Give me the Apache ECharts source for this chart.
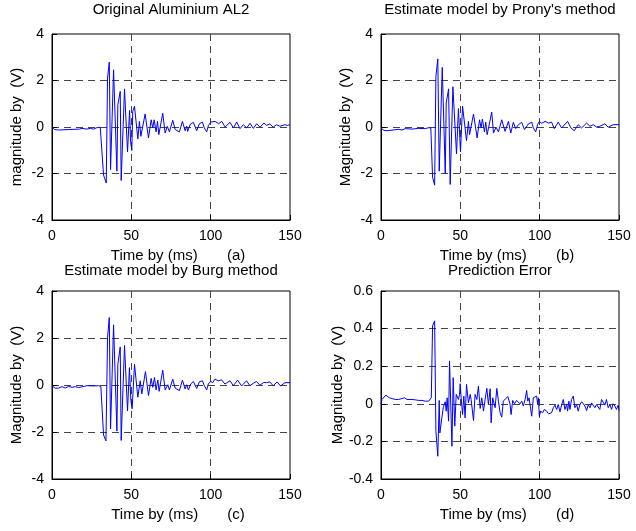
<!DOCTYPE html>
<html>
<head>
<meta charset="utf-8">
<script src="https://cdn.jsdelivr.net/npm/echarts@6/dist/echarts.min.js"></script>
<style>
html,body{margin:0;padding:0;background:#fff;}
#c{width:636px;height:531px;}
</style>
</head>
<body>
<div id="c"></div>
<script>
// ---- Data (time in ms, magnitude in V) ----
const titles = ["Original Aluminium AL2", "Estimate model by Prony's method", "Estimate model by Burg method", "Prediction Error"];
const xNames = ["Time by (ms)       (a)", "Time by (ms)       (b)", "Time by (ms)       (c)", "Time by (ms)       (d)"];
const yNames = ["magnitude by  (V)", "Magnitude by  (V)", "Magnitude by  (V)", "Magnitude by  (V)"];
const xTicks = [0, 50, 100, 150];
const yTicksABC = [-4, -2, 0, 2, 4];
const yTicksD = [-0.4, -0.2, 0, 0.2, 0.4, 0.6];

const aTime = [0,1.5,4.2,10.5,17.4,18.9,22.0,24.1,26.2,28.3,30.4,31.5,32.5,33.1,34.2,35.0,36.1,36.9,38.8,40.9,41.5,43.0,43.6,45.7,47.6,48.9,49.5,50.3,50.9,52.0,54.1,55.1,56.0,58.7,60.8,62.5,63.5,64.4,65.6,66.5,67.3,69.8,71.3,72.7,74.0,76.1,77.6,78.6,80.3,82.2,83.9,84.9,85.5,87.0,89.1,91.2,92.9,93.7,94.8,96.0,97.5,98.6,100.1,101.3,102.8,104.9,107.0,109.1,110.1,112.2,114.3,116.4,118.5,120.6,122.7,124.8,126.9,129.0,131.1,133.6,135.2,137.3,139.4,141.5,143.6,146.8,148.3,150];
const aVolt = [0,-0.11,-0.13,-0.11,-0.09,-0.06,-0.09,-0.06,-0.09,-0.03,-0.01,-0.04,-2.07,-2.19,-2.41,2.10,2.79,-1.83,2.46,-1.90,0.96,1.53,-2.30,1.64,-1.07,0.71,-0.61,-1.01,0.67,0.89,-0.51,0.24,-0.40,0.56,-0.47,0.31,-0.04,0.31,-0.21,0.24,-0.33,0.59,-0.26,0.03,-0.21,0.29,-0.11,-0.07,-0.21,0.24,-0.16,0.03,-0.19,0.10,0.20,-0.16,0.14,0.10,0.21,-0.04,-0.21,0.07,0.21,0.13,0.24,0.14,0.24,0,-0.07,0.20,-0.04,0.21,-0.07,0.10,-0.04,0.16,-0.06,0.14,-0.01,0.17,0.07,0.13,-0.01,0.10,0.03,0.10,0.07,0.10];

const bTime = [0,1.7,3.8,11.1,13.2,15.3,19.5,23.7,27.9,30.0,31.4,32.5,33.8,34.6,35.8,36.7,38.6,40.5,41.1,42.6,43.6,45.3,47.6,48.8,50.1,51.4,53.9,55.1,55.8,58.3,60.6,62.1,63.1,63.9,65.2,66.0,66.9,69.8,70.9,72.5,74.0,76.1,78.2,80.3,81.8,83.4,84.9,86.6,88.7,90.4,92.9,93.9,95.0,96.0,97.5,98.7,99.8,101.3,103.4,105.5,107.5,109.2,111.7,113.8,117.6,119.7,121.8,124.3,126.4,129.6,131.7,133.8,135.8,137.9,141.1,143.2,146.3,150];
const bVolt = [-0.04,-0.14,-0.16,-0.10,-0.13,-0.07,-0.09,-0.06,-0.07,-0.03,-0.04,-2.16,-2.50,2.17,2.93,-1.90,2.56,-2.01,1.03,1.64,-2.47,1.73,-1.16,0.79,-1.07,0.89,-0.59,0.24,-0.33,0.56,-0.47,0.31,-0.04,0.34,-0.21,0.21,-0.33,0.64,-0.26,-0.01,-0.21,0.31,-0.19,0.24,-0.26,0.20,-0.07,0.10,0.20,-0.11,0.13,0.10,0.21,-0.04,-0.21,0.10,0.24,0.16,0.24,0.17,0.21,-0.07,0.21,-0.04,0.24,-0.04,-0.16,0.10,-0.04,0.17,0.03,0.10,0,0.03,0.14,-0.01,0.10,0.10];

const cTime = [0,2.1,4.2,6.3,8.4,10.5,12.6,14.7,16.8,17.8,22.0,26.2,29.4,30.8,32.5,34.0,35.0,36.1,36.9,38.8,40.9,41.5,43.0,43.6,45.7,47.6,48.8,49.7,50.5,52.0,54.1,55.6,56.6,58.9,60.8,62.5,63.5,64.6,65.6,66.7,67.5,69.8,71.3,73.0,74.0,76.1,77.6,78.6,80.3,82.2,83.9,84.9,86.0,87.4,89.1,91.2,92.9,93.7,94.8,96.0,97.5,98.5,100.0,101.3,102.7,104.8,106.9,109.0,110.1,112.2,114.3,117.0,119.5,122.6,124.7,126.8,128.9,131.0,133.5,135.2,137.3,139.4,141.9,144.0,146.8,150];
const cVolt = [-0.03,-0.14,-0.13,-0.07,-0.13,-0.06,-0.10,-0.07,-0.11,-0.03,-0.03,-0.04,-0.03,-0.07,-2.13,-2.38,2.00,2.87,-1.87,2.56,-1.96,0.88,1.62,-2.36,1.68,-1.10,0.74,-0.66,-1.01,0.88,-0.52,0.18,-0.38,0.57,-0.45,0.28,-0.10,0.32,-0.21,0.21,-0.27,0.63,-0.21,0.01,-0.21,0.25,-0.13,-0.10,-0.24,0.21,-0.17,0.01,-0.21,0.04,0.15,-0.15,0.14,0.07,0.18,-0.03,-0.21,0.04,0.15,0.10,0.25,0.18,0.22,0.04,-0.04,0.18,-0.03,0.21,-0.04,0.18,-0.03,0.07,0.15,-0.01,0.11,0.10,0.13,-0.03,0.13,-0.04,0.10,0.10];

const dTime = [0,0.6,1.7,3.1,4.0,5.2,6.9,9.0,10.1,11.1,13.2,14.9,16.4,19.5,21.6,23.7,25.8,27.9,30.0,31.0,31.7,32.5,33.8,34.6,35.8,36.7,37.1,39.2,40.5,41.1,41.7,42.6,43.2,44.2,44.7,45.5,46.5,47.4,48.0,48.8,49.5,49.9,50.5,51.4,52.2,53.0,53.9,55.1,56.2,56.8,58.3,59.3,60.4,61.4,62.5,63.5,64.6,65.6,66.7,67.7,68.8,69.4,70.4,71.9,73.0,74.0,75.1,76.1,77.1,78.2,79.9,81.3,82.0,83.0,84.1,85.5,86.6,87.6,88.7,89.7,90.8,91.8,92.5,93.3,94.1,95.0,96.0,97.1,98.1,98.7,99.2,99.8,100.6,101.9,102.9,104.4,105.5,106.5,107.5,108.6,109.6,110.7,111.7,112.8,113.8,114.9,115.9,117.0,117.6,118.4,119.1,120.1,121.2,122.2,123.3,124.3,125.4,126.4,127.5,128.5,129.6,130.6,131.7,132.7,133.8,134.8,135.8,136.9,137.9,139.0,140.0,141.1,142.1,143.2,144.3,145.3,146.3,147.4,148.4,149.5,150];
const dErr = [0,0.023,0.032,0.046,0.053,0.032,0.028,0.023,0.028,0.023,0.028,0.032,0.023,0.023,0.021,0.018,0.018,0.014,0.014,0.023,0.032,0.414,0.441,-0.146,-0.279,0.018,-0.155,-0.021,0.011,-0.039,0.032,-0.092,0.228,-0.075,-0.226,0.139,-0.119,0.050,0.041,0.023,0.050,0.107,0.032,-0.057,0.041,-0.075,0.103,0.005,0.050,0.023,-0.089,0.050,0.023,0.094,-0.025,0.032,-0.039,0.023,0.082,-0.004,0.080,-0.101,0.032,-0.021,0.082,0.014,-0.048,-0.071,0.014,0.023,0.039,0,-0.057,0.018,0,0.018,0.023,0,0.014,-0.012,0.023,0.071,0.014,0.032,0.023,-0.066,0.032,0.023,0.041,0,0.032,-0.066,-0.039,-0.048,-0.030,-0.039,-0.053,-0.060,-0.048,-0.021,-0.007,-0.030,-0.004,-0.043,-0.007,0.023,-0.030,-0.004,-0.039,0.014,-0.030,0.023,0.041,-0.021,-0.004,-0.039,-0.004,0.011,0,-0.012,-0.036,-0.004,-0.021,0.005,0.011,-0.021,-0.004,-0.012,-0.030,0.023,0.014,-0.007,0.023,-0.021,-0.004,-0.030,0,-0.012,-0.030,-0.007,-0.036];

// ---- Chart ----
const FONT = '"Liberation Sans", Arial, sans-serif';
const FS = 14;      // tick labels
const FN = 15;      // axis names
const FT = 15;      // titles
const grids = [
  {left: 52, top: 34, width: 238, height: 186},
  {left: 381, top: 34, width: 238, height: 186},
  {left: 52, top: 291, width: 238, height: 188},
  {left: 381, top: 291, width: 238, height: 188}
];
const pairs = (t, v) => t.map((x, i) => [x, v[i]]);
const seriesData = [pairs(aTime, aVolt), pairs(bTime, bVolt), pairs(cTime, cVolt), pairs(dTime, dErr)];

const gridLine = {show: true, showMinLine: false, showMaxLine: false, lineStyle: {color: '#444', width: 1, type: [7, 5]}};
const axisLineBlack = {show: true, onZero: false, lineStyle: {color: '#000', width: 1}};
const tickIn = {show: true, inside: true, length: 5, lineStyle: {color: '#000'}};

const option = {
  animation: false,
  backgroundColor: '#fff',
  grid: grids.map(g => Object.assign({show: true, borderColor: '#000', borderWidth: 1, backgroundColor: '#fff', containLabel: false}, g)),
  xAxis: grids.map((g, i) => ({
    type: 'value', gridIndex: i, min: xTicks[0], max: xTicks[xTicks.length - 1], interval: 50,
    name: xNames[i], nameLocation: 'middle', nameGap: 28,
    nameTextStyle: {color: '#000', fontSize: FN, fontFamily: FONT, padding: [0, 0, 0, 14]},
    axisLine: axisLineBlack, axisTick: tickIn, splitLine: gridLine,
    axisLabel: {color: '#000', fontSize: FS, fontFamily: FONT, margin: 9}
  })),
  yAxis: grids.map((g, i) => {
    const ticks = i < 3 ? yTicksABC : yTicksD;
    return {
      type: 'value', gridIndex: i, min: ticks[0], max: ticks[ticks.length - 1], interval: i < 3 ? 2 : 0.2,
      name: yNames[i], nameLocation: 'middle', nameGap: i < 3 ? 28 : 36,
      nameTextStyle: {color: '#000', fontSize: FN, fontFamily: FONT},
      axisLine: axisLineBlack, axisTick: tickIn, splitLine: gridLine,
      axisLabel: {color: '#000', fontSize: FS, fontFamily: FONT, margin: 8,
        formatter: v => (Math.round(v * 10) / 10).toString()}
    };
  }),
  graphic: [
    {type: 'text', x: 171, y: 10, style: {text: titles[0], textAlign: 'center', textVerticalAlign: 'middle', font: FT + 'px ' + FONT, fill: '#000'}},
    {type: 'text', x: 500, y: 10, style: {text: titles[1], textAlign: 'center', textVerticalAlign: 'middle', font: FT + 'px ' + FONT, fill: '#000'}},
    {type: 'text', x: 171, y: 271, style: {text: titles[2], textAlign: 'center', textVerticalAlign: 'middle', font: FT + 'px ' + FONT, fill: '#000'}},
    {type: 'text', x: 500, y: 271, style: {text: titles[3], textAlign: 'center', textVerticalAlign: 'middle', font: FT + 'px ' + FONT, fill: '#000'}}
  ],
  series: seriesData.map((d, i) => ({
    type: 'line', xAxisIndex: i, yAxisIndex: i, data: d,
    showSymbol: false, symbol: 'none', smooth: false,
    lineStyle: {color: '#0000ff', width: 1}, z: 3
  }))
};
const chart = echarts.init(document.getElementById('c'), null, {renderer: 'canvas'});
chart.setOption(option);
</script>
</body>
</html>
